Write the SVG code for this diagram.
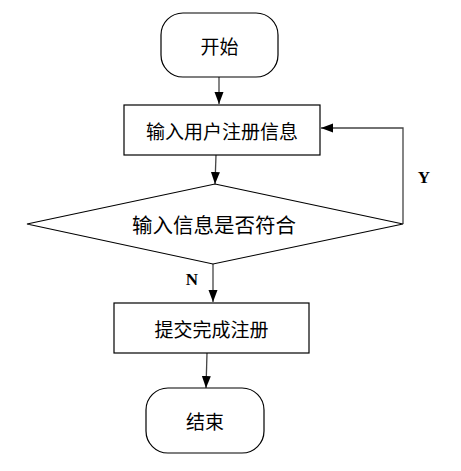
<svg xmlns="http://www.w3.org/2000/svg" width="461" height="471" viewBox="0 0 461 471">
<style>
.shape{fill:#fff;stroke:#000;stroke-width:1.2}
.conn{fill:none;stroke:#444;stroke-width:1.3}
.t{font-family:"Noto Sans CJK SC","Liberation Serif",serif;font-size:19px;fill:#000;text-anchor:middle;dominant-baseline:central}
.lbl{font-family:"Liberation Serif",serif;font-weight:bold;font-size:17px;fill:#000;text-anchor:middle;dominant-baseline:central}
</style>
<defs>
<marker id="arr" markerWidth="12" markerHeight="12" viewBox="0 0 12 12" refX="12" refY="6" orient="auto" markerUnits="userSpaceOnUse">
<path d="M0,1.5 L12,6 L0,10.5 Z" fill="#000"/>
</marker>
</defs>
<rect width="461" height="471" fill="#fff"/>
<g id="connectors">
<line class="conn" x1="219" y1="77" x2="219" y2="104" marker-end="url(#arr)"/>
<line class="conn" x1="216" y1="155" x2="215" y2="184" marker-end="url(#arr)"/>
<polyline class="conn" points="403,224 403,128 321,128" marker-end="url(#arr)"/>
<line class="conn" x1="213" y1="264" x2="213" y2="302" marker-end="url(#arr)"/>
<line class="conn" x1="207" y1="353" x2="206" y2="388" marker-end="url(#arr)"/>
<text class="lbl" x="424" y="177">Y</text>
<text class="lbl" x="192" y="279">N</text>
</g>
<g id="start">
<rect class="shape" x="161" y="13" width="117" height="64" rx="22" ry="22"/>
<text class="t" x="219.5" y="45">开始</text>
</g>
<g id="input">
<rect class="shape" x="124" y="105" width="196" height="50"/>
<text class="t" x="222" y="130">输入用户注册信息</text>
</g>
<g id="check">
<polygon class="shape" points="215,184 403,224 213,264 27,224"/>
<text class="t" x="214" y="224" style="font-size:20.5px">输入信息是否符合</text>
</g>
<g id="submit">
<rect class="shape" x="114" y="303" width="195" height="50"/>
<text class="t" x="211.5" y="328">提交完成注册</text>
</g>
<g id="end">
<rect class="shape" x="146" y="388" width="118" height="65" rx="22" ry="22"/>
<text class="t" x="205" y="420">结束</text>
</g>
</svg>
